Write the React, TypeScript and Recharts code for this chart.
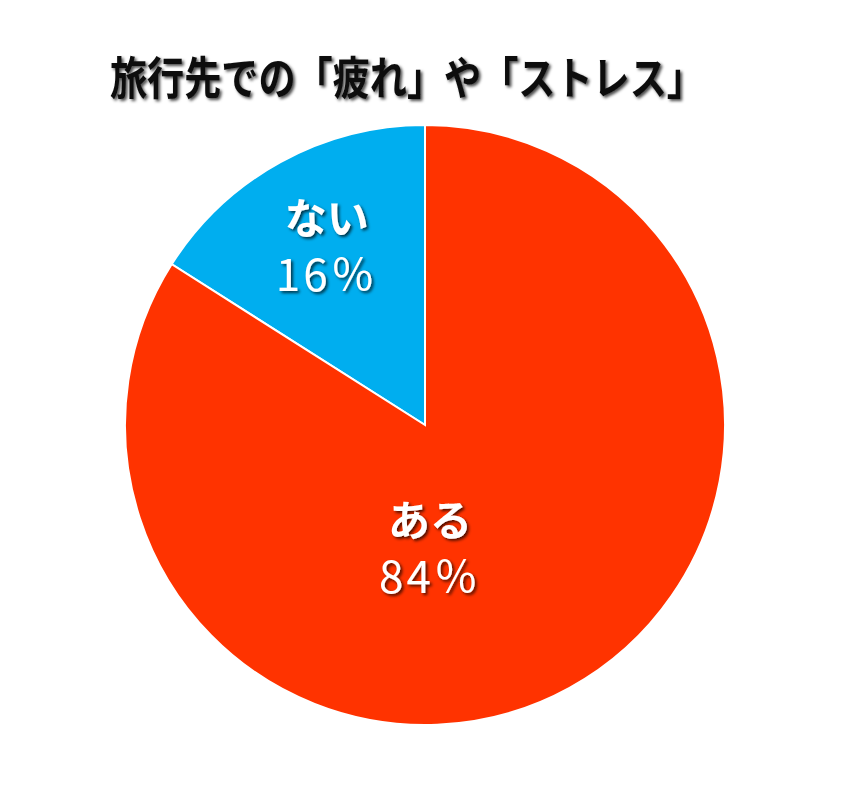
import { PieChart, Pie, Cell } from "recharts"

const names = ["ない", "ある"]
const values = [16, 84]
const colors = ["#00AEEF", "#FF3300"]

const data = names.map((name, i) => ({ name, value: values[i] }))

const RADIAN = Math.PI / 180

function renderLabel(props: any) {
  const { cx, cy, midAngle, outerRadius, index, name, value } = props
  let x: number
  let y: number
  if (index === 0) {
    const r = outerRadius * 0.68
    x = cx + r * Math.cos(-midAngle * RADIAN)
    y = cy + r * Math.sin(-midAngle * RADIAN)
  } else {
    x = cx + 5
    y = cy + outerRadius * 0.41
  }
  return (
    <g filter="url(#txtShadow)">
      <text
        x={x}
        y={y - 12}
        textAnchor="middle"
        fill="#fff"
        fontSize={42}
        fontWeight={700}
        fontFamily="'Noto Sans CJK JP', sans-serif"
      >
        {name}
      </text>
      <text
        x={x}
        y={y + 45}
        textAnchor="middle"
        fill="#fff"
        fontSize={44}
        letterSpacing={3}
        fontFamily="'Noto Sans CJK JP', sans-serif"
      >
        {value}％
      </text>
    </g>
  )
}

export default function App() {
  return (
    <div style={{ position: "absolute", left: 0, top: 0, width: 860, height: 788, background: "#fff" }}>
      <PieChart width={860} height={788} margin={{ top: 0, right: 0, bottom: 0, left: 0 }}>
        <defs>
          <filter id="txtShadow" x="-20%" y="-20%" width="140%" height="140%">
            <feDropShadow dx="2" dy="2" stdDeviation="1.5" floodColor="#000" floodOpacity="0.7" />
          </filter>
        </defs>
        <text
          x={110}
          y={95}
          fontSize={45}
          fontWeight={700}
          fill="#111"
          textLength={594}
          lengthAdjust="spacingAndGlyphs"
          fontFamily="'Noto Sans CJK JP', sans-serif"
          filter="url(#txtShadow)"
        >
          旅行先での「疲れ」や「ストレス」
        </text>
        <Pie
          data={data}
          dataKey="value"
          nameKey="name"
          cx={425}
          cy={425}
          outerRadius={300}
          startAngle={90}
          endAngle={450}
          stroke="#fff"
          strokeWidth={2}
          label={renderLabel}
          labelLine={false}
          isAnimationActive={false}
        >
          {data.map((d, i) => (
            <Cell key={d.name} fill={colors[i]} />
          ))}
        </Pie>
      </PieChart>
    </div>
  )
}
